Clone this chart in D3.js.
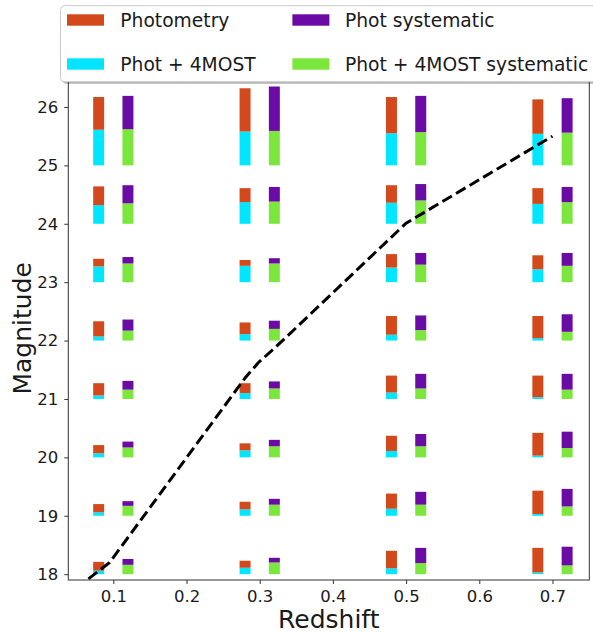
<!DOCTYPE html>
<html>
<head>
<meta charset="utf-8">
<script src="https://cdn.jsdelivr.net/npm/d3@7"></script>
<style>
  html, body { margin: 0; padding: 0; background: #fff; }
  svg { display: block; font-family: "DejaVu Sans", sans-serif; }
</style>
</head>
<body>
<svg id="chart" width="593" height="633"></svg>
<script>
// ---------------- data ----------------
const redshifts = [0.1, 0.3, 0.5, 0.7];
const magnitudes = [18, 19, 20, 21, 22, 23, 24, 25];
const seriesNames = ["Photometry", "Phot systematic", "Phot + 4MOST", "Phot + 4MOST systematic"];
const xTicks = [0.1, 0.2, 0.3, 0.4, 0.5, 0.6, 0.7];
const yTicks = [18, 19, 20, 21, 22, 23, 24, 25, 26];

// heights per redshift (rows) and magnitude 18..25 (columns)
const phot4most = [
  [0.06, 0.06, 0.07, 0.06, 0.07, 0.27, 0.32, 0.61],
  [0.11, 0.11, 0.12, 0.10, 0.11, 0.28, 0.37, 0.58],
  [0.10, 0.12, 0.11, 0.11, 0.10, 0.25, 0.36, 0.55],
  [0.03, 0.03, 0.03, 0.03, 0.04, 0.22, 0.34, 0.54]
];
const photometry = [
  [0.15, 0.14, 0.14, 0.21, 0.26, 0.13, 0.32, 0.56],
  [0.12, 0.13, 0.12, 0.17, 0.20, 0.10, 0.24, 0.74],
  [0.30, 0.26, 0.26, 0.29, 0.32, 0.23, 0.30, 0.62],
  [0.42, 0.40, 0.39, 0.37, 0.38, 0.24, 0.27, 0.59]
];
const phot4mostSys = [
  [0.16, 0.17, 0.17, 0.16, 0.17, 0.32, 0.35, 0.62],
  [0.20, 0.19, 0.19, 0.18, 0.20, 0.32, 0.38, 0.59],
  [0.19, 0.19, 0.19, 0.18, 0.18, 0.30, 0.40, 0.57],
  [0.15, 0.16, 0.16, 0.16, 0.15, 0.28, 0.37, 0.56]
];
const photSys = [
  [0.10, 0.08, 0.10, 0.15, 0.19, 0.11, 0.31, 0.57],
  [0.08, 0.10, 0.11, 0.12, 0.14, 0.09, 0.25, 0.76],
  [0.26, 0.22, 0.21, 0.25, 0.25, 0.20, 0.28, 0.62],
  [0.32, 0.30, 0.28, 0.27, 0.30, 0.22, 0.26, 0.59]
];

// dashed limit curve
const lineZ = [0.066, 0.095, 0.28, 0.298, 0.322, 0.50, 0.70];
const lineM = [17.92, 18.20, 21.36, 21.62, 21.89, 24.01, 25.50];

// ---------------- styles ----------------
const colors = {
  "Photometry": "#d2491b",
  "Phot systematic": "#6b0ba5",
  "Phot + 4MOST": "#00e6ff",
  "Phot + 4MOST systematic": "#7be63b"
};
const barOffset = 0.02, barWidth = 0.015;

const svg = d3.select("#chart");
const L = 68.3, R = 589.3, T = 76.6, B = 580;

const x = d3.scaleLinear().domain([0.0385, 0.7503]).range([L, R]);
const y = d3.scaleLinear().domain([17.9, 26.52]).range([B, T]);

const bw = x(barWidth) - x(0);

// bars
const gBars = svg.append("g");
function drawStack(offset, lower, upper, cLower, cUpper) {
  redshifts.forEach((z, i) => {
    magnitudes.forEach((m, j) => {
      const xc = x(z + offset);
      const b = lower[i][j], t = upper[i][j];
      gBars.append("rect")
        .attr("x", xc - bw / 2).attr("width", bw)
        .attr("y", y(m + b)).attr("height", y(m) - y(m + b))
        .attr("fill", cLower);
      gBars.append("rect")
        .attr("x", xc - bw / 2).attr("width", bw)
        .attr("y", y(m + b + t)).attr("height", y(m + b) - y(m + b + t))
        .attr("fill", cUpper);
    });
  });
}
drawStack(-barOffset, phot4most, photometry, colors["Phot + 4MOST"], colors["Photometry"]);
drawStack(barOffset, phot4mostSys, photSys, colors["Phot + 4MOST systematic"], colors["Phot systematic"]);

// dashed line
const lineData = lineZ.map((z, i) => [z, lineM[i]]);
svg.append("path")
  .datum(lineData)
  .attr("d", d3.line().x(d => x(d[0])).y(d => y(d[1])))
  .attr("fill", "none")
  .attr("stroke", "#000")
  .attr("stroke-width", 3)
  .attr("stroke-dasharray", "11,4.8");

// axes
const xAxis = svg.append("g")
  .attr("transform", `translate(0,${B})`)
  .call(d3.axisBottom(x).tickValues(xTicks).tickFormat(d3.format(".1f")).tickSize(4).tickPadding(6));
const yAxis = svg.append("g")
  .attr("transform", `translate(${L},0)`)
  .call(d3.axisLeft(y).tickValues(yTicks).tickFormat(d3.format("d")).tickSize(4).tickPadding(6));
[xAxis, yAxis].forEach(g => {
  g.selectAll("text").attr("font-size", 16.5).attr("fill", "#1a1a1a").attr("font-family", "DejaVu Sans");
  g.selectAll("line").attr("stroke", "#333");
  g.select(".domain").remove();
});
// frame
svg.append("rect")
  .attr("x", L).attr("y", T).attr("width", R - L).attr("height", B - T)
  .attr("fill", "none").attr("stroke", "#333").attr("stroke-width", 1);

// axis labels
svg.append("text")
  .attr("x", (L + R) / 2).attr("y", 628)
  .attr("text-anchor", "middle")
  .attr("font-size", 25).attr("fill", "#1a1a1a")
  .text("Redshift");
svg.append("text")
  .attr("transform", `translate(31,${(T + B) / 2}) rotate(-90)`)
  .attr("text-anchor", "middle")
  .attr("font-size", 25).attr("fill", "#1a1a1a")
  .text("Magnitude");

// legend
const leg = svg.append("g");
leg.append("rect")
  .attr("x", 62.5).attr("y", 7.7).attr("width", 560).attr("height", 76)
  .attr("rx", 4).attr("fill", "#000").attr("opacity", 0.3);
leg.append("rect")
  .attr("x", 60.5).attr("y", 5.7).attr("width", 560).attr("height", 76)
  .attr("rx", 4).attr("fill", "#fff").attr("stroke", "#cccccc").attr("stroke-width", 1);
const legendPos = [
  { name: "Photometry", px: 67, py: 14.3, tx: 120.3, ty: 26.9 },
  { name: "Phot systematic", px: 292.4, py: 14.3, tx: 345, ty: 26.9 },
  { name: "Phot + 4MOST", px: 67, py: 58.3, tx: 120.3, ty: 70.8 },
  { name: "Phot + 4MOST systematic", px: 292.4, py: 58.3, tx: 345, ty: 70.8 }
];
legendPos.forEach(e => {
  leg.append("rect")
    .attr("x", e.px).attr("y", e.py).attr("width", 37).attr("height", 11.4)
    .attr("fill", colors[e.name]);
  leg.append("text")
    .attr("x", e.tx).attr("y", e.ty)
    .attr("font-size", 18.7).attr("fill", "#1a1a1a")
    .text(e.name);
});
</script>
</body>
</html>
